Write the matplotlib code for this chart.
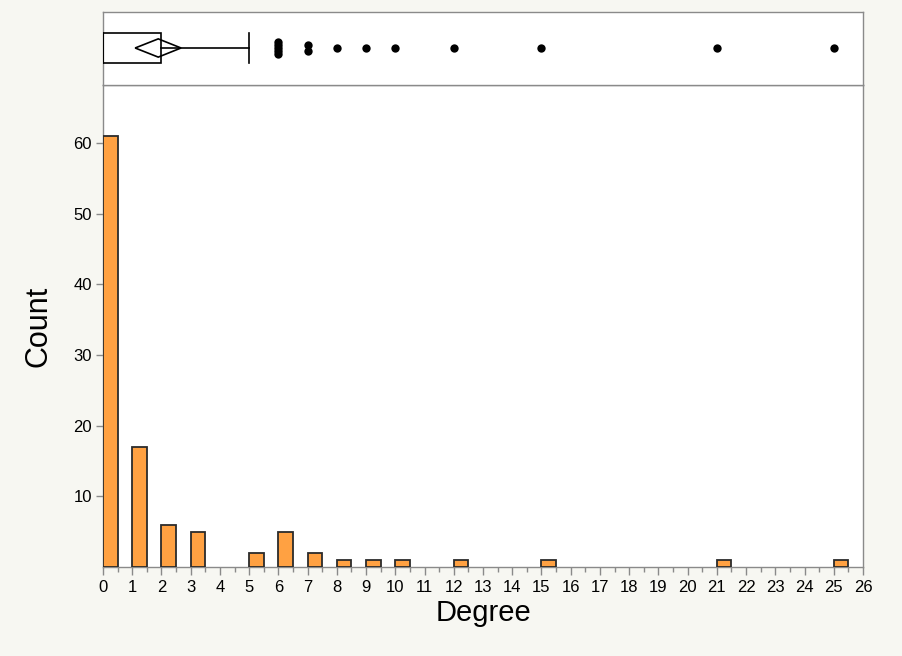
import matplotlib
matplotlib.use("Agg")
import matplotlib.pyplot as plt
from matplotlib.patches import Rectangle, Polygon
from matplotlib.ticker import MultipleLocator

# ---- data ----
degree_bins = [0, 1, 2, 3, 5, 6, 7, 8, 9, 10, 12, 15, 21, 25]
counts      = [61, 17, 6, 5, 2, 5, 2, 1, 1, 1, 1, 1, 1, 1]

# outlier box plot summary
q1, median, q3 = 0, 0, 2
whisker_hi = 5
mean_value = 1.89
mean_ci = [1.10, 2.67]
outliers = [6, 6, 6, 6, 6, 7, 7, 8, 9, 10, 12, 15, 21, 25]
outlier_jitter = [0.08, 0.04, 0.0, -0.04, -0.08, 0.045, -0.045, 0, 0, 0, 0, 0, 0, 0]

x_ticks = list(range(0, 27))
y_ticks = [10, 20, 30, 40, 50, 60]

# ---- styling ----
bar_color = "#FFA142"
spine_color = "#8a8a8a"
bg = "#F7F7F2"
plt.rcParams["font.family"] = ["Liberation Sans", "DejaVu Sans"]

fig = plt.figure(figsize=(9.02, 6.56), dpi=100, facecolor=bg)
L, R = 103 / 902, 863 / 902
y_main_bot = 1 - 567 / 656
y_mid = 1 - 85 / 656
y_top = 1 - 12 / 656

ax = fig.add_axes([L, y_main_bot, R - L, y_mid - y_main_bot])
axb = fig.add_axes([L, y_mid, R - L, y_top - y_mid], sharex=ax)

# histogram bars (left-aligned, half-unit width)
ax.bar(degree_bins, counts, width=0.5, align="edge", color=bar_color,
       edgecolor="#2b2b2b", linewidth=1.3, zorder=3)
ax.set_xlim(0, 26)
ax.set_ylim(0, 68.2)
ax.set_xticks(x_ticks)
ax.set_xticklabels([str(t) for t in x_ticks])
ax.xaxis.set_minor_locator(MultipleLocator(0.5))
ax.set_yticks(y_ticks)
ax.set_yticklabels([str(t) for t in y_ticks])
ax.tick_params(axis="x", which="major", length=6, width=1, color=spine_color,
               labelsize=12, pad=3)
ax.tick_params(axis="x", which="minor", length=3.5, width=1, color=spine_color)
ax.tick_params(axis="y", which="major", length=5, width=1, color=spine_color,
               labelsize=12, pad=3)
for s in ax.spines.values():
    s.set_color(spine_color)
    s.set_linewidth(1.0)
ax.set_facecolor("white")
ax.set_xlabel("Degree", fontsize=21, labelpad=3)
ax.set_ylabel("Count", fontsize=22, labelpad=14)

# box plot panel
axb.set_ylim(0, 1)
axb.set_facecolor("white")
for s in axb.spines.values():
    s.set_color(spine_color)
    s.set_linewidth(1.0)
axb.tick_params(axis="both", which="both", length=0, labelbottom=False,
                labelleft=False)
axb.set_yticks([])

cy = 0.507
axb.add_patch(Rectangle((q1, cy - 0.2), q3 - q1, 0.4, fill=False,
                        edgecolor="black", linewidth=1.2, zorder=3))
axb.plot([median, median], [cy - 0.2, cy + 0.2], color="black", lw=1.2, zorder=3)
axb.plot([q3, whisker_hi], [cy, cy], color="black", lw=1.2, zorder=3)
axb.plot([whisker_hi, whisker_hi], [cy - 0.21, cy + 0.21], color="black",
         lw=1.2, zorder=3)
diamond = Polygon([(mean_ci[0], cy), (mean_value, cy + 0.125),
                   (mean_ci[1], cy), (mean_value, cy - 0.125)],
                  closed=True, fill=False, edgecolor="black", linewidth=1.2,
                  zorder=4)
axb.add_patch(diamond)
axb.scatter(outliers, [cy + j for j in outlier_jitter], s=36, color="black",
            zorder=5, linewidths=0)

fig.savefig("out.png", dpi=100, facecolor=bg)
